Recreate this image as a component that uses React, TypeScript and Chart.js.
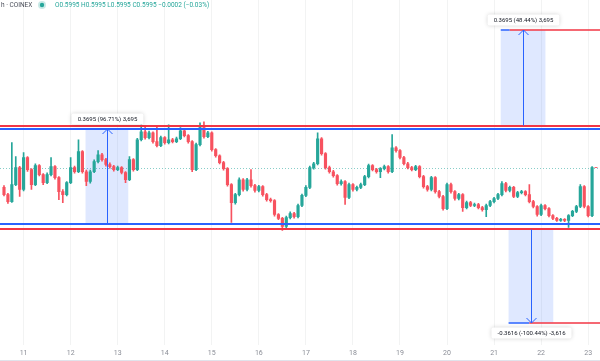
import React, { useEffect, useRef } from "react";
import { Chart, registerables } from "chart.js";

Chart.register(...registerables);

// ---- axis / categories ----
const dayLabels = ["11", "12", "13", "14", "15", "16", "17", "18", "19", "20", "21", "22", "23"];
const FIRST_DAY_INDEX = 5;
const BARS_PER_DAY = 12;

// ---- candle series (2h bars) ----
const opens = [
  0.523, 0.495, 0.468, 0.534, 0.6, 0.515, 0.639, 0.592, 0.534, 0.608,
  0.573, 0.542, 0.573, 0.604, 0.561, 0.507, 0.495, 0.542, 0.6, 0.584,
  0.662, 0.584, 0.546, 0.584, 0.623, 0.65, 0.631, 0.612, 0.604, 0.592,
  0.6, 0.581, 0.553, 0.631, 0.592, 0.708, 0.739, 0.716, 0.735, 0.701,
  0.685, 0.716, 0.697, 0.708, 0.701, 0.712, 0.743, 0.724, 0.701, 0.592,
  0.689, 0.755, 0.72, 0.735, 0.67, 0.646, 0.619, 0.596, 0.534, 0.464,
  0.495, 0.553, 0.515, 0.553, 0.53, 0.511, 0.526, 0.495, 0.476, 0.472,
  0.418, 0.403, 0.372, 0.406, 0.422, 0.41, 0.453, 0.492, 0.523, 0.6,
  0.615, 0.712, 0.654, 0.6, 0.584, 0.569, 0.538, 0.546, 0.484, 0.534,
  0.515, 0.523, 0.534, 0.565, 0.608, 0.592, 0.584, 0.596, 0.604, 0.584,
  0.677, 0.666, 0.639, 0.615, 0.6, 0.592, 0.604, 0.565, 0.526, 0.515,
  0.561, 0.507, 0.488, 0.441, 0.534, 0.507, 0.48, 0.495, 0.445, 0.464,
  0.453, 0.457, 0.445, 0.437, 0.453, 0.468, 0.48, 0.495, 0.538, 0.511,
  0.523, 0.488, 0.503, 0.507, 0.495, 0.468, 0.449, 0.418, 0.453, 0.441,
  0.414, 0.403, 0.395, 0.399, 0.395, 0.414, 0.43, 0.449, 0.526, 0.449,
  0.414, 0.5997,
];
const closes = [
  0.495, 0.468, 0.534, 0.6, 0.515, 0.639, 0.592, 0.534, 0.608, 0.573,
  0.542, 0.573, 0.604, 0.561, 0.507, 0.495, 0.542, 0.6, 0.584, 0.662,
  0.584, 0.546, 0.584, 0.623, 0.65, 0.631, 0.612, 0.604, 0.592, 0.6,
  0.581, 0.553, 0.631, 0.592, 0.708, 0.739, 0.716, 0.735, 0.701, 0.685,
  0.716, 0.697, 0.708, 0.701, 0.712, 0.743, 0.724, 0.701, 0.592, 0.689,
  0.755, 0.72, 0.735, 0.67, 0.646, 0.619, 0.596, 0.534, 0.464, 0.495,
  0.553, 0.515, 0.553, 0.53, 0.511, 0.526, 0.495, 0.476, 0.472, 0.418,
  0.403, 0.372, 0.406, 0.422, 0.41, 0.453, 0.492, 0.523, 0.6, 0.615,
  0.712, 0.654, 0.6, 0.584, 0.569, 0.538, 0.546, 0.484, 0.534, 0.515,
  0.523, 0.534, 0.565, 0.608, 0.592, 0.584, 0.596, 0.604, 0.584, 0.677,
  0.666, 0.639, 0.615, 0.6, 0.592, 0.604, 0.565, 0.526, 0.515, 0.561,
  0.507, 0.488, 0.441, 0.534, 0.507, 0.48, 0.495, 0.445, 0.464, 0.453,
  0.457, 0.445, 0.437, 0.453, 0.468, 0.48, 0.495, 0.538, 0.511, 0.523,
  0.488, 0.503, 0.507, 0.495, 0.468, 0.449, 0.418, 0.453, 0.441, 0.414,
  0.403, 0.395, 0.399, 0.395, 0.414, 0.43, 0.449, 0.526, 0.449, 0.414,
  0.5997, 0.5995,
];
const highs = [
  0.53, 0.5, 0.697, 0.643, 0.605, 0.658, 0.643, 0.596, 0.615, 0.612,
  0.577, 0.58, 0.639, 0.608, 0.565, 0.515, 0.546, 0.639, 0.606, 0.708,
  0.666, 0.59, 0.59, 0.63, 0.666, 0.655, 0.636, 0.618, 0.609, 0.606,
  0.604, 0.585, 0.643, 0.635, 0.714, 0.766, 0.759, 0.742, 0.739, 0.759,
  0.722, 0.72, 0.766, 0.714, 0.718, 0.755, 0.748, 0.728, 0.705, 0.695,
  0.774, 0.778, 0.741, 0.739, 0.674, 0.65, 0.624, 0.6, 0.538, 0.5,
  0.56, 0.557, 0.558, 0.592, 0.535, 0.531, 0.53, 0.5, 0.482, 0.476,
  0.422, 0.407, 0.412, 0.428, 0.426, 0.458, 0.497, 0.53, 0.606, 0.62,
  0.735, 0.716, 0.658, 0.606, 0.589, 0.573, 0.553, 0.55, 0.54, 0.538,
  0.528, 0.54, 0.57, 0.614, 0.612, 0.597, 0.6, 0.61, 0.608, 0.728,
  0.682, 0.67, 0.644, 0.62, 0.605, 0.609, 0.608, 0.57, 0.531, 0.566,
  0.565, 0.512, 0.492, 0.54, 0.54, 0.511, 0.5, 0.499, 0.47, 0.469,
  0.462, 0.461, 0.45, 0.458, 0.473, 0.485, 0.5, 0.546, 0.543, 0.528,
  0.527, 0.508, 0.512, 0.511, 0.534, 0.473, 0.453, 0.458, 0.457, 0.445,
  0.418, 0.407, 0.403, 0.402, 0.418, 0.434, 0.454, 0.534, 0.53, 0.453,
  0.604, 0.5997,
];
const lows = [
  0.49, 0.461, 0.465, 0.53, 0.488, 0.51, 0.585, 0.515, 0.53, 0.568,
  0.534, 0.538, 0.568, 0.555, 0.476, 0.464, 0.49, 0.538, 0.578, 0.58,
  0.578, 0.53, 0.54, 0.58, 0.618, 0.625, 0.606, 0.598, 0.586, 0.588,
  0.575, 0.542, 0.549, 0.586, 0.588, 0.703, 0.71, 0.711, 0.695, 0.68,
  0.681, 0.691, 0.692, 0.696, 0.697, 0.708, 0.719, 0.695, 0.584, 0.588,
  0.684, 0.714, 0.716, 0.664, 0.64, 0.614, 0.59, 0.528, 0.387, 0.458,
  0.49, 0.509, 0.51, 0.524, 0.505, 0.506, 0.489, 0.47, 0.466, 0.412,
  0.398, 0.356, 0.366, 0.401, 0.404, 0.405, 0.448, 0.487, 0.518, 0.594,
  0.61, 0.648, 0.594, 0.578, 0.563, 0.532, 0.532, 0.457, 0.479, 0.509,
  0.51, 0.518, 0.53, 0.56, 0.587, 0.578, 0.561, 0.591, 0.578, 0.58,
  0.66, 0.634, 0.61, 0.595, 0.587, 0.588, 0.56, 0.52, 0.509, 0.51,
  0.501, 0.482, 0.435, 0.437, 0.501, 0.474, 0.475, 0.43, 0.44, 0.448,
  0.448, 0.44, 0.431, 0.41, 0.448, 0.463, 0.476, 0.49, 0.506, 0.506,
  0.483, 0.483, 0.498, 0.49, 0.463, 0.444, 0.412, 0.414, 0.436, 0.409,
  0.398, 0.391, 0.391, 0.39, 0.368, 0.41, 0.425, 0.445, 0.444, 0.409,
  0.41, 0.5995,
];

// ---- price range of the pane ----
const Y_MIN = -0.0866;
const Y_MAX = 1.2501;

// ---- drawings ----
const blueLevels = [0.7516, 0.3821];
const redLevels = [0.7628, 0.36];
const lastPrice = 0.5995;

const measureStarts = [20.8, 126.7, 128.7];
const measureEnds = [31.7, 138.1, 140.1];
const measureArrows = [26.4, 132.5, 134.3];
const measureFrom = [0.3821, 0.7628, 0.36];
const measureTo = [0.7516, 1.1323, -0.0016];
const measureLabels = ["0.3695 (96.71%) 3,695", "0.3695 (48.44%) 3,695", "-0.3616 (-100.44%) -3,616"];
const targetRayStarts = [null, 129.0, 134.0];

const legendSymbol = "h · COINEX";
const legendValues = "O0.5995 H0.5995 L0.5995 C0.5995 −0.0002 (−0.03%)";

const UP = "#26a69a";
const DOWN = "#f7525f";
const BLUE = "#2962ff";
const RED = "#f23645";
const FONT = "Roboto, 'Noto Sans', sans-serif";

function roundRect(ctx: CanvasRenderingContext2D, x: number, y: number, w: number, h: number, r: number) {
  ctx.beginPath();
  ctx.moveTo(x + r, y);
  ctx.lineTo(x + w - r, y);
  ctx.quadraticCurveTo(x + w, y, x + w, y + r);
  ctx.lineTo(x + w, y + h - r);
  ctx.quadraticCurveTo(x + w, y + h, x + w - r, y + h);
  ctx.lineTo(x + r, y + h);
  ctx.quadraticCurveTo(x, y + h, x, y + h - r);
  ctx.lineTo(x, y + r);
  ctx.quadraticCurveTo(x, y, x + r, y);
  ctx.closePath();
}

const drawingsPlugin = {
  id: "tvDrawings",
  beforeDatasetsDraw(chart: any) {
    const ctx = chart.ctx as CanvasRenderingContext2D;
    const xs = chart.scales.x;
    const ys = chart.scales.y;
    ctx.save();
    const yl = Math.round(ys.getPixelForValue(lastPrice)) + 0.5;
    ctx.strokeStyle = "rgba(38,166,154,0.55)";
    ctx.lineWidth = 1;
    ctx.setLineDash([1, 2]);
    ctx.beginPath();
    ctx.moveTo(0, yl);
    ctx.lineTo(chart.width, yl);
    ctx.stroke();
    ctx.setLineDash([]);
    ctx.fillStyle = "rgba(41,98,255,0.15)";
    for (let i = 0; i < measureStarts.length; i++) {
      const x0 = xs.getPixelForValue(measureStarts[i]);
      const x1 = xs.getPixelForValue(measureEnds[i]);
      const y0 = ys.getPixelForValue(measureFrom[i]);
      const y1 = ys.getPixelForValue(measureTo[i]);
      ctx.fillRect(x0, Math.min(y0, y1), x1 - x0, Math.abs(y1 - y0));
    }
    ctx.restore();
  },
  afterDatasetsDraw(chart: any) {
    const ctx = chart.ctx as CanvasRenderingContext2D;
    const xs = chart.scales.x;
    const ys = chart.scales.y;
    const W = chart.width;
    ctx.save();
    ctx.lineWidth = 2;
    ctx.strokeStyle = BLUE;
    for (const v of blueLevels) {
      const y = Math.round(ys.getPixelForValue(v));
      ctx.beginPath();
      ctx.moveTo(0, y);
      ctx.lineTo(W, y);
      ctx.stroke();
    }
    ctx.strokeStyle = RED;
    for (const v of redLevels) {
      const y = Math.round(ys.getPixelForValue(v));
      ctx.beginPath();
      ctx.moveTo(0, y);
      ctx.lineTo(W, y);
      ctx.stroke();
    }
    for (let i = 0; i < measureStarts.length; i++) {
      const x0 = xs.getPixelForValue(measureStarts[i]);
      const xa = Math.round(xs.getPixelForValue(measureArrows[i])) + 0.5;
      const yFrom = ys.getPixelForValue(measureFrom[i]);
      const yTo = Math.round(ys.getPixelForValue(measureTo[i]));
      const dir = yTo < yFrom ? -1 : 1;
      const rs = targetRayStarts[i];
      if (rs !== null) {
        const xr = xs.getPixelForValue(rs);
        ctx.lineWidth = 1.5;
        ctx.strokeStyle = BLUE;
        ctx.beginPath();
        ctx.moveTo(x0, yTo);
        ctx.lineTo(xr, yTo);
        ctx.stroke();
        ctx.strokeStyle = RED;
        ctx.beginPath();
        ctx.moveTo(xr, yTo);
        ctx.lineTo(W, yTo);
        ctx.stroke();
      }
      ctx.strokeStyle = BLUE;
      ctx.lineWidth = 1;
      ctx.beginPath();
      ctx.moveTo(xa, yFrom);
      ctx.lineTo(xa, yTo);
      ctx.stroke();
      ctx.beginPath();
      ctx.moveTo(xa - 5, yTo - dir * 5);
      ctx.lineTo(xa, yTo);
      ctx.lineTo(xa + 5, yTo - dir * 5);
      ctx.stroke();
      ctx.font = `6px ${FONT}`;
      const tw = ctx.measureText(measureLabels[i]).width;
      const bw = tw + 12;
      const bh = 11;
      const cy = yTo + dir * 10;
      ctx.save();
      ctx.shadowColor = "rgba(0,0,0,0.18)";
      ctx.shadowBlur = 4;
      ctx.fillStyle = "#ffffff";
      roundRect(ctx, xa - bw / 2, cy - bh / 2, bw, bh, 2);
      ctx.fill();
      ctx.restore();
      ctx.fillStyle = "#131722";
      ctx.textAlign = "center";
      ctx.textBaseline = "middle";
      ctx.fillText(measureLabels[i], xa, cy + 0.5);
    }
    ctx.textAlign = "left";
    ctx.textBaseline = "middle";
    ctx.font = `6.5px ${FONT}`;
    ctx.fillStyle = "#4a4e59";
    ctx.fillText(legendSymbol, 1, 5);
    ctx.fillStyle = "rgba(38,166,154,0.25)";
    ctx.beginPath();
    ctx.arc(42, 5, 4, 0, Math.PI * 2);
    ctx.fill();
    ctx.fillStyle = UP;
    ctx.beginPath();
    ctx.arc(42, 5, 2.2, 0, Math.PI * 2);
    ctx.fill();
    ctx.fillText(legendValues, 55, 5);
    ctx.strokeStyle = "#e0e3eb";
    ctx.lineWidth = 1;
    ctx.beginPath();
    ctx.moveTo(0, chart.height - 0.5);
    ctx.lineTo(W, chart.height - 0.5);
    ctx.stroke();
    ctx.restore();
  },
};

export default function App() {
  const ref = useRef<HTMLCanvasElement | null>(null);
  useEffect(() => {
    if (!ref.current) return;
    const labels = closes.map((_, i) => {
      const d = i - FIRST_DAY_INDEX;
      return d >= 0 && d % BARS_PER_DAY === 0 ? dayLabels[d / BARS_PER_DAY] ?? "" : "";
    });
    const colors = closes.map((c, i) => (c >= opens[i] ? UP : DOWN));
    const chart = new Chart(ref.current, {
      type: "bar",
      data: {
        labels,
        datasets: [
          {
            label: "body",
            data: closes.map((c, i) => [Math.min(c, opens[i]), Math.max(c, opens[i])]) as any,
            backgroundColor: colors,
            barThickness: 2.5,
            grouped: false,
            borderSkipped: false,
            order: 0,
          } as any,
          {
            label: "wick",
            data: lows.map((l, i) => [l, highs[i]]) as any,
            backgroundColor: colors,
            barThickness: 1,
            grouped: false,
            borderSkipped: false,
            order: 1,
          } as any,
        ],
      },
      options: {
        responsive: false,
        animation: false,
        layout: { padding: { left: 0, right: 0, top: 0, bottom: 0 } },
        plugins: { legend: { display: false }, tooltip: { enabled: false } },
        scales: {
          x: {
            offset: true,
            border: { display: false },
            grid: {
              offset: false,
              drawTicks: false,
              color: (c: any) => (c.tick && c.tick.label ? "rgba(42,46,57,0.06)" : "rgba(0,0,0,0)"),
            },
            ticks: {
              autoSkip: false,
              maxRotation: 0,
              padding: 4,
              color: "#8a8d96",
              font: { size: 7, family: FONT },
              callback: (_v: any, i: number) => labels[i],
            },
          },
          y: {
            display: false,
            min: Y_MIN,
            max: Y_MAX,
          },
        },
      },
      plugins: [drawingsPlugin],
    });
    return () => chart.destroy();
  }, []);
  return (
    <div style={{ position: "absolute", left: 0, top: 0, width: 600, height: 361, background: "#ffffff" }}>
      <canvas ref={ref} width={600} height={361} />
    </div>
  );
}
